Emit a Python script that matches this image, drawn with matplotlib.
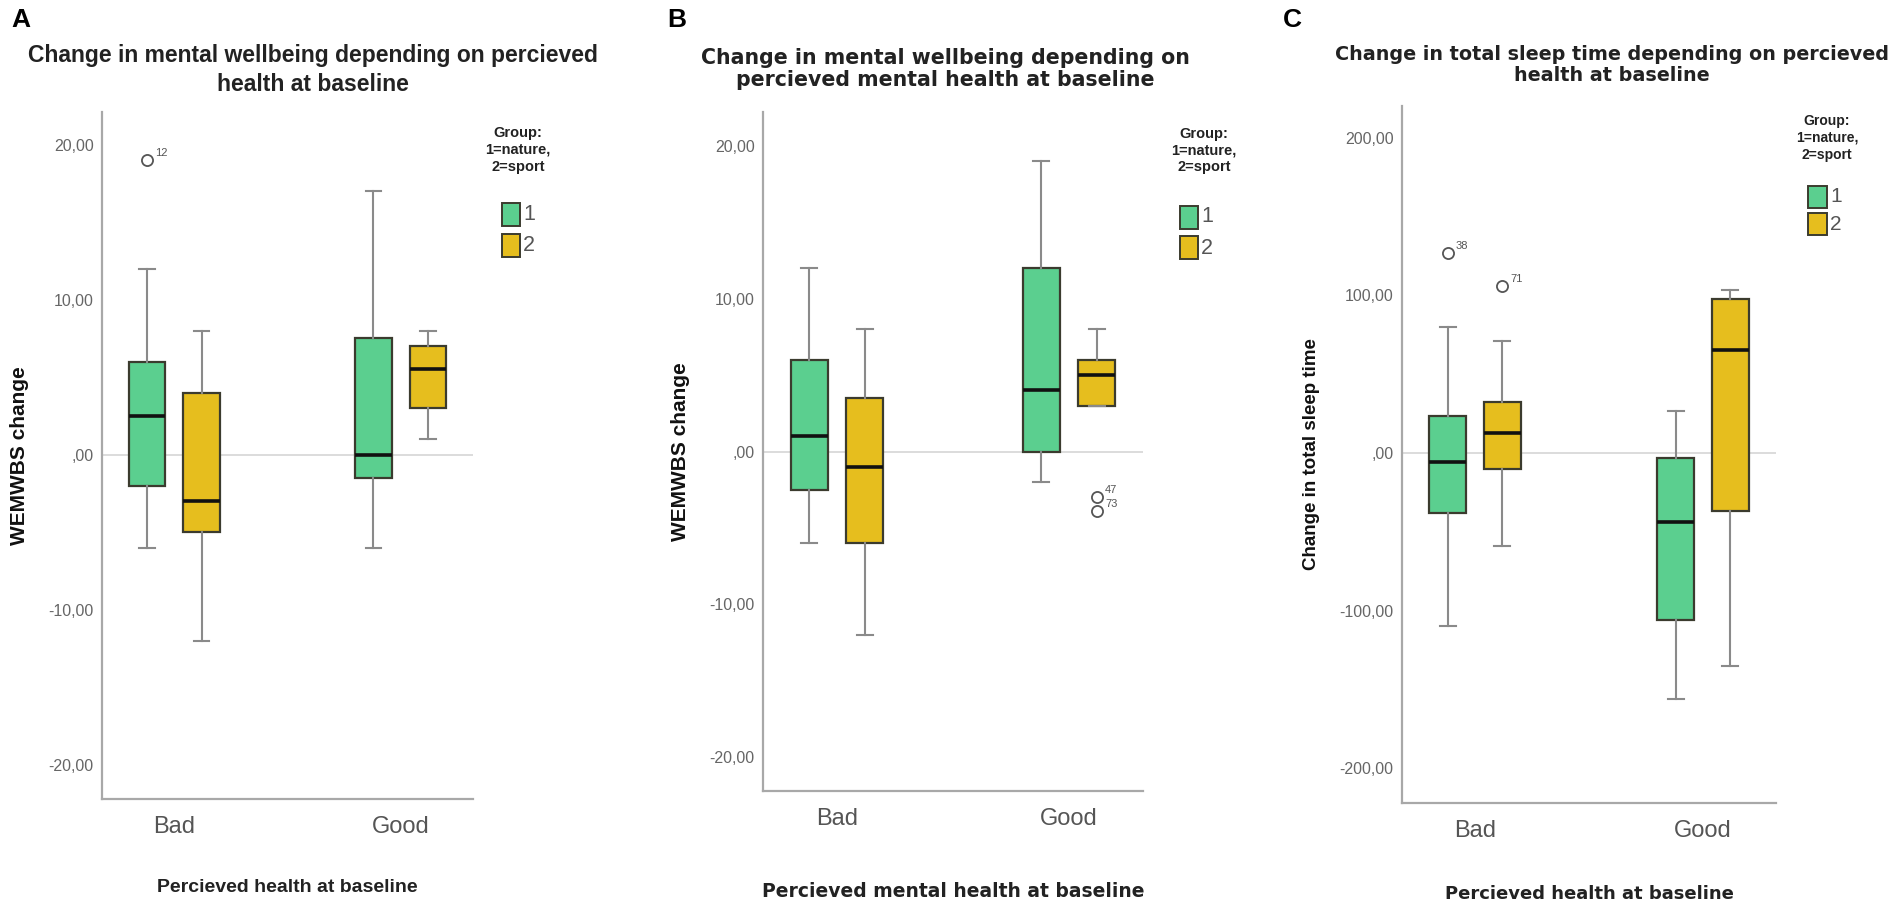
import matplotlib.pyplot as plt
from matplotlib.patches import Rectangle

# ---- data (box stats per group) ----
categories = ['Bad', 'Good']
groups = ['1', '2']

# panel A: WEMWBS change vs perceived health
a_med = [[2.5, -3.0], [0.0, 5.5]]
a_q1 = [[-2.0, -5.0], [-1.5, 3.0]]
a_q3 = [[6.0, 4.0], [7.5, 7.0]]
a_lo = [[-6.0, -12.0], [-6.0, 1.0]]
a_hi = [[12.0, 8.0], [17.0, 8.0]]
a_out = [[[19.0], []], [[], []]]
a_out_lab = [[['12'], []], [[], []]]

# panel B: WEMWBS change vs perceived mental health
b_med = [[1.0, -1.0], [4.0, 5.0]]
b_q1 = [[-2.5, -6.0], [0.0, 3.0]]
b_q3 = [[6.0, 3.5], [12.0, 6.0]]
b_lo = [[-6.0, -12.0], [-2.0, 3.0]]
b_hi = [[12.0, 8.0], [19.0, 8.0]]
b_out = [[[], []], [[], [-3.0, -3.9]]]
b_out_lab = [[[], []], [[], ['47', '73']]]

# panel C: change in total sleep time vs perceived health
c_med = [[-5.5, 12.5], [-44.0, 65.5]]
c_q1 = [[-38.0, -10.0], [-106.0, -37.0]]
c_q3 = [[23.5, 32.5], [-3.0, 97.5]]
c_lo = [[-110.0, -59.0], [-156.0, -135.0]]
c_hi = [[80.0, 71.0], [26.5, 103.5]]
c_out = [[[126.5], [106.0]], [[], []]]
c_out_lab = [[['38'], ['71']], [[], []]]

colors = ['#5BCF8F', '#E6BE1E']
edge = '#3b3b2e'
grey = '#8a8a8a'

W, H = 1901, 907
fig = plt.figure(figsize=(W / 100, H / 100), dpi=100)
plt.rcParams['font.family'] = ['Liberation Sans', 'DejaVu Sans']


def fx(p):
    return p / W


def fy(p):
    return 1 - p / H


def draw_panel(box_px, med, q1, q3, lo, hi, outs, out_labs, ylim, yticks, ytl,
               title, title_xy, title_font, ylabel, ylab_size, xlabel, xlab_font,
               xlab_pad, letter, letter_x, leg):
    l, t, r, b = box_px
    ax = fig.add_axes([fx(l), fy(b), fx(r - l), (b - t) / H])
    ax.axhline(0, color='#d9d9d9', lw=1.3, zorder=0)
    for ci in range(len(categories)):
        for gi in range(len(groups)):
            pos = ci + (gi - 0.5) * 0.24
            st = dict(med=med[ci][gi], q1=q1[ci][gi], q3=q3[ci][gi],
                      whislo=lo[ci][gi], whishi=hi[ci][gi], fliers=outs[ci][gi])
            ax.bxp([st], positions=[pos], widths=0.16, patch_artist=True,
                   showfliers=True, capwidths=0.07,
                   boxprops=dict(facecolor=colors[gi], edgecolor=edge, lw=1.6),
                   medianprops=dict(color='#111111', lw=2.6),
                   whiskerprops=dict(color=grey, lw=1.5),
                   capprops=dict(color=grey, lw=1.5),
                   flierprops=dict(marker='o', markerfacecolor='none',
                                   markeredgecolor='#555555', markersize=8,
                                   markeredgewidth=1.3))
            for v, lab in zip(outs[ci][gi], out_labs[ci][gi]):
                ax.annotate(lab, (pos, v), xytext=(6, 3), textcoords='offset points',
                            fontsize=8, color='#555555')
    ax.set_xlim(-0.32, 1.32)
    ax.set_ylim(*ylim)
    ax.set_xticks(range(len(categories)))
    ax.set_xticklabels(categories, fontsize=17, color='#555555')
    ax.set_yticks(yticks)
    ax.set_yticklabels(ytl, fontsize=11.5, color='#666666')
    ax.tick_params(length=0, pad=6)
    ax.tick_params(axis='x', pad=12)
    for s in ['top', 'right']:
        ax.spines[s].set_visible(False)
    for s in ['left', 'bottom']:
        ax.spines[s].set_color('#a8a8a8')
        ax.spines[s].set_linewidth(1.6)
    tprops = dict(linespacing=1.15)
    tprops.update(title_font)
    fig.text(fx(title_xy[0]), fy(title_xy[1]), title, ha='center', va='center',
             multialignment='center', color='#222222', fontweight='bold', **tprops)
    ax.set_ylabel(ylabel, fontsize=ylab_size, fontweight='bold', labelpad=14,
                  color='#111111')
    ax.set_xlabel(xlabel, fontweight='bold', labelpad=xlab_pad, color='#222222',
                  **xlab_font)
    # legend block (title + two swatches) placed like the SPSS output
    tx, ty0, px0, pw, ph, py1, py2, lsz = leg
    fig.text(fx(tx), fy(ty0), 'Group:\n1=nature,\n2=sport', ha='center', va='top',
             multialignment='center', fontsize=lsz, fontweight='bold',
             color='#222222', linespacing=1.25)
    for gi, pc in enumerate([py1, py2]):
        fig.add_artist(Rectangle((fx(px0), fy(pc + ph / 2)), pw / W, ph / H,
                                 facecolor=colors[gi], edgecolor=edge, lw=1.4,
                                 transform=fig.transFigure))
        fig.text(fx(px0 + pw + 3), fy(pc), groups[gi], ha='left', va='center',
                 fontsize=lsz + 5, color='#555555')
    fig.text(fx(letter_x), fy(8), letter, fontsize=19, fontweight='bold', va='top')
    return ax


ty = [-20, -10, 0, 10, 20]
tyl = ['-20,00', '-10,00', ',00', '10,00', '20,00']
wide = dict(family=['DejaVu Sans'])

draw_panel((102, 112, 473, 799), a_med, a_q1, a_q3, a_lo, a_hi,
           a_out, a_out_lab, (-22.2, 22.1), ty, tyl,
           'Change in mental wellbeing depending on percieved\nhealth at baseline',
           (313, 70), dict(fontsize=16.5, linespacing=1.3),
           'WEMWBS change', 15, 'Percieved health at baseline', dict(fontsize=14),
           30, 'A', 11, (518, 126, 502, 18, 23, 214, 245, 10.5))
draw_panel((763, 112, 1143, 791), b_med, b_q1, b_q3, b_lo, b_hi,
           b_out, b_out_lab, (-22.2, 22.2), ty, tyl,
           'Change in mental wellbeing depending on\npercieved mental health at baseline',
           (945, 69), dict(fontsize=14.8, **wide),
           'WEMWBS change', 15, 'Percieved mental health at baseline',
           dict(fontsize=13.5, **wide), 38, 'B', 667, (1204, 127, 1180, 18, 23, 217, 248, 10.5))
draw_panel((1402, 106, 1776, 803), c_med, c_q1, c_q3, c_lo, c_hi,
           c_out, c_out_lab, (-222, 220), [-200, -100, 0, 100, 200],
           ['-200,00', '-100,00', ',00', '100,00', '200,00'],
           'Change in total sleep time depending on percieved\nhealth at baseline',
           (1612, 65), dict(fontsize=13.8, **wide),
           'Change in total sleep time', 13.5, 'Percieved health at baseline',
           dict(fontsize=13, **wide), 31, 'C', 1283, (1827, 114, 1808, 19, 21, 197, 224, 10))

fig.savefig('out.png', dpi=100)
